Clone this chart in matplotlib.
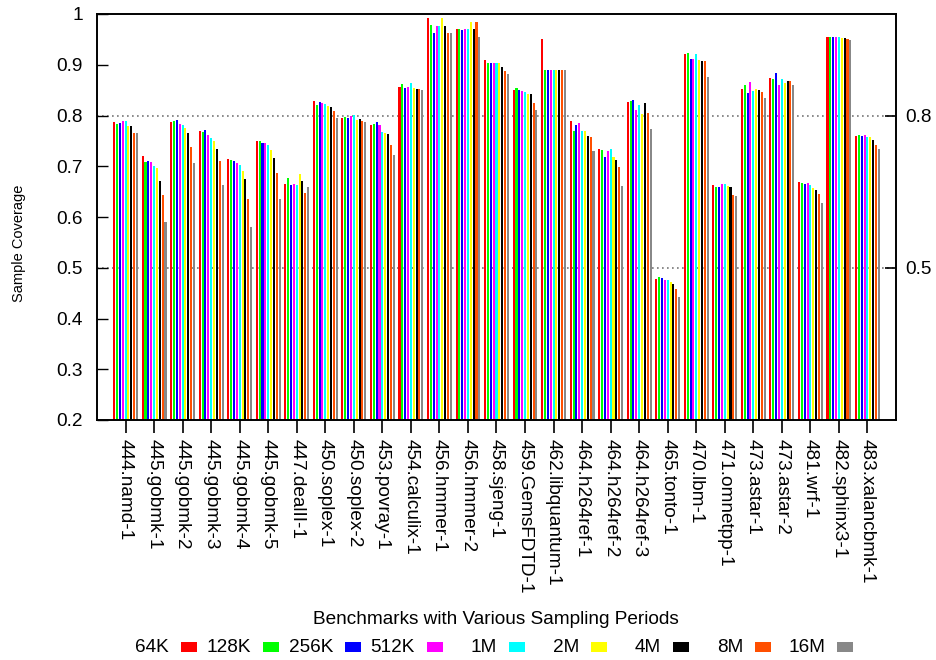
import matplotlib
matplotlib.use("Agg")
import matplotlib.pyplot as plt
import numpy as np
from matplotlib.patches import Rectangle

plt.rcParams['font.family'] = ['Liberation Sans', 'DejaVu Sans']

benchmarks = ["444.namd-1", "445.gobmk-1", "445.gobmk-2", "445.gobmk-3", "445.gobmk-4",
              "445.gobmk-5", "447.dealII-1", "450.soplex-1", "450.soplex-2", "453.povray-1",
              "454.calculix-1", "456.hmmer-1", "456.hmmer-2", "458.sjeng-1", "459.GemsFDTD-1",
              "462.libquantum-1", "464.h264ref-1", "464.h264ref-2", "464.h264ref-3", "465.tonto-1",
              "470.lbm-1", "471.omnetpp-1", "473.astar-1", "473.astar-2", "481.wrf-1",
              "482.sphinx3-1", "483.xalancbmk-1"]

periods = ["64K", "128K", "256K", "512K", "1M", "2M", "4M", "8M", "16M"]
colores = ["#ff0000", "#00ff00", "#0000ff", "#ff00ff", "#00ffff",
           "#ffff00", "#000000", "#ff4f00", "#888888"]

s64K = [.787, .720, .787, .769, .714, .750, .665, .828, .795, .781, .856, .992, .970, .909,
        .850, .951, .789, .734, .826, .477, .921, .663, .852, .874, .669, .955, .759]
s128K = [.784, .708, .789, .767, .712, .750, .677, .821, .797, .783, .862, .978, .970, .903,
         .854, .890, .769, .732, .828, .481, .923, .659, .860, .872, .667, .955, .761]
s256K = [.785, .710, .791, .771, .710, .746, .663, .826, .795, .787, .854, .963, .968, .903,
         .850, .890, .781, .718, .830, .479, .911, .659, .844, .884, .665, .955, .759]
s512K = [.789, .708, .783, .761, .706, .746, .665, .824, .799, .781, .856, .976, .970, .903,
         .848, .890, .785, .730, .811, .475, .911, .665, .866, .860, .667, .955, .761]
s1M = [.789, .700, .781, .755, .702, .742, .663, .822, .801, .767, .864, .976, .970, .903,
       .846, .890, .769, .734, .821, .475, .921, .665, .848, .872, .663, .955, .757]
s2M = [.779, .696, .775, .750, .690, .732, .684, .819, .791, .765, .854, .992, .984, .903,
       .842, .890, .769, .718, .803, .471, .909, .661, .852, .864, .657, .953, .757]
s4M = [.779, .671, .765, .734, .675, .716, .671, .817, .793, .763, .852, .976, .970, .895,
       .842, .890, .759, .712, .824, .467, .907, .659, .850, .868, .653, .953, .751]
s8M = [.765, .643, .738, .710, .635, .686, .647, .809, .789, .742, .852, .963, .984, .888,
       .824, .890, .757, .698, .805, .458, .907, .643, .846, .868, .645, .951, .742]
s16M = [.765, .590, .706, .663, .580, .635, .659, .795, .787, .722, .850, .963, .955, .882,
        .811, .890, .730, .661, .773, .442, .876, .641, .834, .860, .627, .949, .734]

series = [s64K, s128K, s256K, s512K, s1M, s2M, s4M, s8M, s16M]

W, H = 937, 660
fs = 13.7
fig = plt.figure(figsize=(W / 100, H / 100), dpi=100)
ax = fig.add_axes([97 / W, 1 - 420 / H, (896 - 97) / W, (420 - 14) / H])

x = np.arange(1, len(benchmarks) + 1)
paso = 0.1
for k, (vals, col) in enumerate(zip(series, colores)):
    ax.bar(x + (k - 4) * paso, vals, width=0.072, color=col, linewidth=0, zorder=2)

ax.set_xlim(0, len(benchmarks) + 1)
ax.set_ylim(0.2, 1.0)

# grid del eje derecho (0.5 y 0.8)
for yv in [0.5, 0.8]:
    ax.axhline(yv, color="#777777", linestyle=(0, (1, 2)), linewidth=1.2, zorder=1)

yt = np.round(np.arange(0.2, 1.01, 0.1), 1)
ax.set_yticks(yt)
ax.set_yticklabels(["%g" % v for v in yt])
ax.tick_params(axis="y", direction="in", length=8, width=1, labelsize=fs, pad=10)

ax.set_xticks(x)
ax.set_xticklabels(benchmarks, rotation=270, ha="center", va="top", fontsize=fs)
ax.tick_params(axis="x", direction="out", length=9, width=1.2, pad=5)

ax2 = ax.twinx()
ax2.set_ylim(0.2, 1.0)
ax2.set_yticks([0.5, 0.8])
ax2.set_yticklabels(["0.5", "0.8"])
ax2.tick_params(axis="y", direction="in", length=8, width=1.2, labelsize=fs, pad=7)

for a in (ax, ax2):
    for s in a.spines.values():
        s.set_linewidth(1.2)

fig.text(19 / W, 1 - 243 / H, "Sample Coverage", rotation=90, ha="center", va="center",
         fontsize=10.5)
fig.text(496 / W, 1 - 619 / H, "Benchmarks with Various Sampling Periods",
         ha="center", va="center", fontsize=fs)

# leyenda manual estilo gnuplot
for k, (lab, col) in enumerate(zip(periods, colores)):
    x0 = 181 + 82 * k
    fig.patches.append(Rectangle((x0 / W, 1 - 652 / H), 16 / W, 10 / H,
                                 transform=fig.transFigure, color=col, linewidth=0))
    fig.text((x0 - 12) / W, 1 - 647 / H, lab, ha="right", va="center", fontsize=fs)

fig.savefig("out.png", dpi=100)
